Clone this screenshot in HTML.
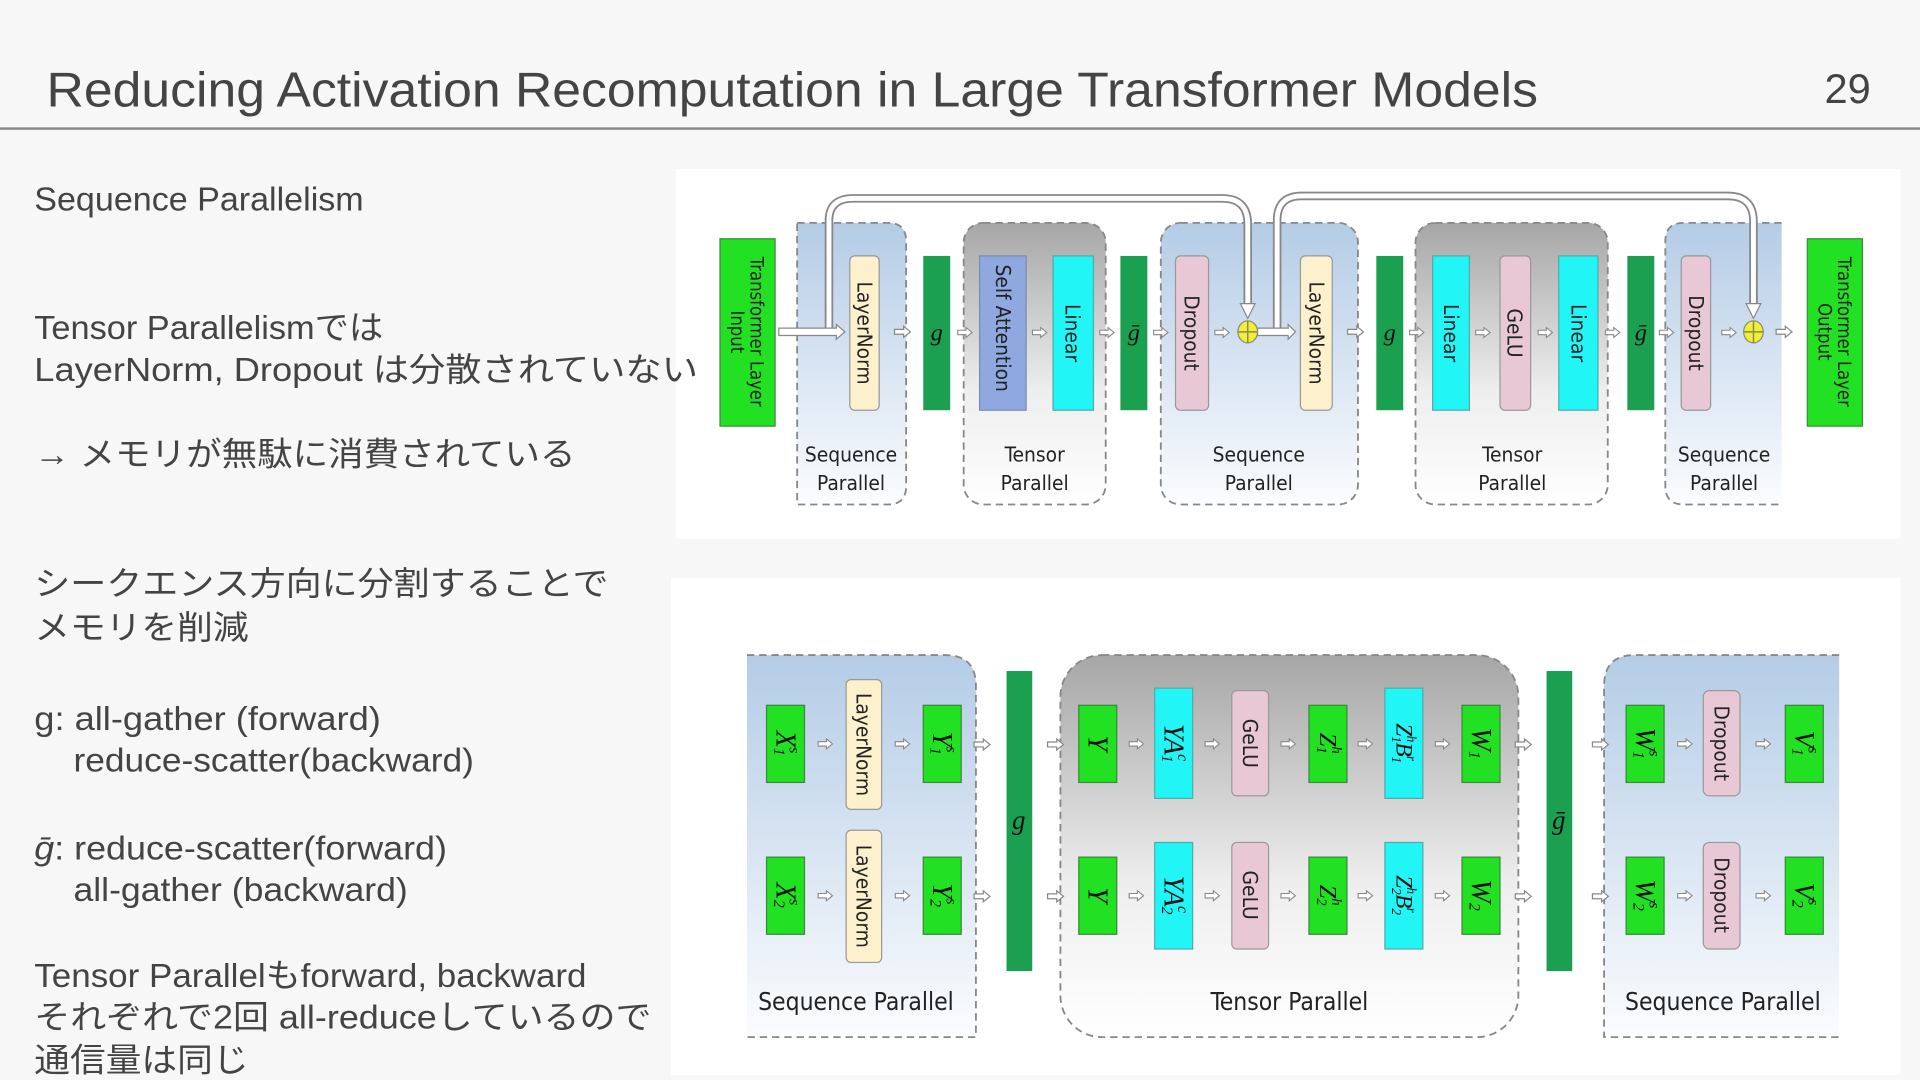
<!DOCTYPE html>
<html><head><meta charset="utf-8"><style>
html,body{margin:0;padding:0;background:#f7f7f7;width:1920px;height:1080px;overflow:hidden}
svg{display:block}
.t{font-family:"Liberation Sans","Noto Sans CJK JP",sans-serif;fill:#444}
.lb{font-family:"DejaVu Sans Condensed","DejaVu Sans","Liberation Sans",sans-serif;fill:#222}
.m{font-family:"Liberation Serif",serif;font-style:italic;fill:#111}
</style></head><body>
<svg width="1920" height="1080" viewBox="0 0 1568 882" xmlns="http://www.w3.org/2000/svg">
<defs>
<linearGradient id="bl" x1="0" y1="0" x2="0" y2="1"><stop offset="0" stop-color="#b4cce6"/><stop offset="1" stop-color="#fbfcfe"/></linearGradient>
<linearGradient id="gr" x1="0" y1="0" x2="0" y2="1"><stop offset="0" stop-color="#a6a6a6"/><stop offset="0.6" stop-color="#eeeeee"/><stop offset="1" stop-color="#ffffff"/></linearGradient>
<symbol id="ar" viewBox="0 0 14 10" overflow="visible"><path d="M0.5,3 H8 V0.5 L13.5,5 L8,9.5 V7 H0.5Z" fill="#fff" stroke="#888" stroke-width="1"/></symbol>
</defs>
<rect width="1568" height="882" fill="#f7f7f7"/>
<text class="t" x="38" y="87" font-size="40" textLength="1218" lengthAdjust="spacingAndGlyphs" style="fill:#444">Reducing Activation Recomputation in Large Transformer Models</text>
<text class="t" x="1490" y="84" font-size="34">29</text>
<rect x="0" y="104" width="1568" height="2" fill="#888"/>

<!-- TOP DIAGRAM -->
<rect x="552" y="138" width="1000" height="302" fill="#fff"/>
<g stroke="#888" stroke-width="1.5" stroke-dasharray="6,4">
<path d="M651,182 H725 Q740,182 740,197 V397 Q740,412 725,412 H651 Z" fill="url(#bl)"/>
<rect x="787" y="182" width="116" height="230" rx="16" fill="url(#gr)"/>
<rect x="948" y="182" width="161" height="230" rx="16" fill="url(#bl)"/>
<rect x="1156" y="182" width="157" height="230" rx="16" fill="url(#gr)"/>
<path d="M1455,182 H1375 Q1360,182 1360,197 V397 Q1360,412 1375,412 H1455" fill="url(#bl)"/>
</g>
<g fill="none" stroke-linecap="butt">
<path d="M677,271 V180 Q677,162 697,162 H998 Q1019,162 1019,183 V250" stroke="#888" stroke-width="7"/>
<path d="M677,271 V180 Q677,162 697,162 H998 Q1019,162 1019,183 V252" stroke="#fff" stroke-width="4"/>
<path d="M1043,271 V180 Q1043,160 1063,160 H1411 Q1432,160 1432,181 V250" stroke="#888" stroke-width="7"/>
<path d="M1043,271 V180 Q1043,160 1063,160 H1411 Q1432,160 1432,181 V252" stroke="#fff" stroke-width="4"/>
</g>
<path d="M1013,248 H1025 L1019,260 Z" fill="#fff" stroke="#888"/>
<path d="M1426,248 H1438 L1432,260 Z" fill="#fff" stroke="#888"/>
<path d="M636,268 H683 V265 L690,271 L683,277 V274 H636Z" fill="#fff" stroke="#888"/>
<use href="#ar" x="726" y="266" width="22" height="10"/>
<use href="#ar" x="781" y="267" width="14" height="9"/>
<use href="#ar" x="842" y="267" width="14" height="9"/>
<use href="#ar" x="897" y="267" width="14" height="9"/>
<use href="#ar" x="941" y="267" width="14" height="9"/>
<use href="#ar" x="991" y="267" width="14" height="9"/>
<path d="M1027,268 H1052 V265 L1058,271 L1052,277 V274 H1027Z" fill="#fff" stroke="#888"/>
<use href="#ar" x="1094" y="266" width="26" height="10"/>
<use href="#ar" x="1150" y="267" width="14" height="9"/>
<use href="#ar" x="1204" y="267" width="14" height="9"/>
<use href="#ar" x="1255" y="267" width="14" height="9"/>
<use href="#ar" x="1310" y="267" width="14" height="9"/>
<use href="#ar" x="1354" y="267" width="14" height="9"/>
<use href="#ar" x="1405" y="267" width="14" height="9"/>
<use href="#ar" x="1442" y="266" width="30" height="10"/>
<rect x="588" y="195" width="45" height="153" fill="#22e022" stroke="#3a8a3a"/>
<text class="lb" transform="translate(610,271) rotate(90)" text-anchor="middle" font-size="15"><tspan x="0" dy="-3">Transformer Layer</tspan><tspan x="0" dy="16">Input</tspan></text>
<rect x="1476" y="195" width="45" height="153" fill="#22e022" stroke="#3a8a3a"/>
<text class="lb" transform="translate(1498,271) rotate(90)" text-anchor="middle" font-size="15"><tspan x="0" dy="-3">Transformer Layer</tspan><tspan x="0" dy="16">Output</tspan></text>

<g class="lb" font-size="17">
<rect x="694" y="209" width="24" height="126" rx="4" fill="#fdf0cc" stroke="#999"/>
<text transform="translate(706,272) rotate(90)" text-anchor="middle" dominant-baseline="central">LayerNorm</text>
<rect x="800" y="209" width="38" height="126" fill="#8fa8e0" stroke="#7a8ab0"/>
<text transform="translate(819,268) rotate(90)" text-anchor="middle" dominant-baseline="central">Self Attention</text>
<rect x="860" y="209" width="33" height="126" fill="#22f5f5" stroke="#5aa"/>
<text transform="translate(876,272) rotate(90)" text-anchor="middle" dominant-baseline="central">Linear</text>
<rect x="960" y="209" width="27" height="126" rx="4" fill="#e8c8d4" stroke="#999"/>
<text transform="translate(973,272) rotate(90)" text-anchor="middle" dominant-baseline="central">Dropout</text>
<rect x="1062" y="209" width="26" height="126" rx="4" fill="#fdf0cc" stroke="#999"/>
<text transform="translate(1075,272) rotate(90)" text-anchor="middle" dominant-baseline="central">LayerNorm</text>
<rect x="1170" y="209" width="30" height="126" fill="#22f5f5" stroke="#5aa"/>
<text transform="translate(1185,272) rotate(90)" text-anchor="middle" dominant-baseline="central">Linear</text>
<rect x="1225" y="209" width="25" height="126" rx="4" fill="#e8c8d4" stroke="#999"/>
<text transform="translate(1237,272) rotate(90)" text-anchor="middle" dominant-baseline="central">GeLU</text>
<rect x="1273" y="209" width="32" height="126" fill="#22f5f5" stroke="#5aa"/>
<text transform="translate(1289,272) rotate(90)" text-anchor="middle" dominant-baseline="central">Linear</text>
<rect x="1373" y="209" width="24" height="126" rx="4" fill="#e8c8d4" stroke="#999"/>
<text transform="translate(1385,272) rotate(90)" text-anchor="middle" dominant-baseline="central">Dropout</text>
</g>
<rect x="754" y="209" width="22" height="126" fill="#1aa050"/>
<text class="m" x="765" y="278" text-anchor="middle" font-size="20">g</text>
<rect x="915" y="209" width="22" height="126" fill="#1aa050"/>
<text class="m" x="926" y="278" text-anchor="middle" font-size="20">ḡ</text>
<rect x="1124" y="209" width="22" height="126" fill="#1aa050"/>
<text class="m" x="1135" y="278" text-anchor="middle" font-size="20">g</text>
<rect x="1329" y="209" width="22" height="126" fill="#1aa050"/>
<text class="m" x="1340" y="278" text-anchor="middle" font-size="20">ḡ</text>
<ellipse cx="1019" cy="271" rx="8" ry="9" fill="#f0f030" stroke="#888"/>
<path d="M1011,271 H1027 M1019,262 V280" stroke="#886" stroke-width="1.2"/>
<ellipse cx="1432" cy="271" rx="8" ry="9" fill="#f0f030" stroke="#888"/>
<path d="M1424,271 H1440 M1432,262 V280" stroke="#886" stroke-width="1.2"/>

<g class="lb" font-size="17" text-anchor="middle">
<text x="695" y="377">Sequence</text><text x="695" y="400">Parallel</text>
<text x="845" y="377">Tensor</text><text x="845" y="400">Parallel</text>
<text x="1028" y="377">Sequence</text><text x="1028" y="400">Parallel</text>
<text x="1235" y="377">Tensor</text><text x="1235" y="400">Parallel</text>
<text x="1408" y="377">Sequence</text><text x="1408" y="400">Parallel</text>
</g>

<!-- BOTTOM DIAGRAM -->
<rect x="548" y="472" width="1004" height="406" fill="#fff"/>
<g stroke="#888" stroke-width="1.5" stroke-dasharray="6,4">
<path d="M610,535 H772 Q797,535 797,560 V847 H610" fill="url(#bl)"/>
<rect x="866" y="535" width="374" height="312" rx="34" fill="url(#gr)"/>
<path d="M1502,535 H1335 Q1310,535 1310,560 V847 H1502" fill="url(#bl)"/>
</g>
<rect x="822" y="548" width="21" height="245" fill="#1aa050"/>
<text class="m" x="832" y="677" text-anchor="middle" font-size="22">g</text>
<rect x="1263" y="548" width="21" height="245" fill="#1aa050"/>
<text class="m" x="1273" y="677" text-anchor="middle" font-size="22">ḡ</text>

<g>
<rect x="626" y="576" width="31" height="63" fill="#22e022" stroke="#3a8a3a"/>
<text class="m" transform="translate(641,607) rotate(90)" text-anchor="middle" dominant-baseline="central" font-size="23">X<tspan font-size="13" dy="5">1</tspan><tspan font-size="13" dx="-7" dy="-13">s</tspan></text>
<rect x="691" y="555" width="29" height="106" rx="4" fill="#fdf0cc" stroke="#999"/>
<text class="lb" transform="translate(705,608) rotate(90)" text-anchor="middle" dominant-baseline="central" font-size="17">LayerNorm</text>
<rect x="754" y="576" width="31" height="63" fill="#22e022" stroke="#3a8a3a"/>
<text class="m" transform="translate(769,607) rotate(90)" text-anchor="middle" dominant-baseline="central" font-size="23">Y<tspan font-size="13" dy="5">1</tspan><tspan font-size="13" dx="-7" dy="-13">s</tspan></text>
<rect x="881" y="576" width="31" height="63" fill="#22e022" stroke="#3a8a3a"/>
<text class="m" transform="translate(896,607) rotate(90)" text-anchor="middle" dominant-baseline="central" font-size="23">Y</text>
<rect x="943" y="562" width="31" height="90" fill="#22f5f5" stroke="#5aa"/>
<text class="m" transform="translate(958,607) rotate(90)" text-anchor="middle" dominant-baseline="central" font-size="23">YA<tspan font-size="13" dy="5">1</tspan><tspan font-size="13" dx="-7" dy="-13">c</tspan></text>
<rect x="1006" y="564" width="30" height="86" rx="4" fill="#e8c8d4" stroke="#999"/>
<text class="lb" transform="translate(1021,607) rotate(90)" text-anchor="middle" dominant-baseline="central" font-size="17">GeLU</text>
<rect x="1069" y="576" width="31" height="63" fill="#22e022" stroke="#3a8a3a"/>
<text class="m" transform="translate(1084,607) rotate(90)" text-anchor="middle" dominant-baseline="central" font-size="20">Z<tspan font-size="12" dy="5">1</tspan><tspan font-size="12" dx="-6" dy="-12">h</tspan></text>
<rect x="1131" y="562" width="31" height="90" fill="#22f5f5" stroke="#5aa"/>
<text class="m" transform="translate(1146,607) rotate(90)" text-anchor="middle" dominant-baseline="central" font-size="19">Z<tspan font-size="11" dy="5">1</tspan><tspan font-size="11" dx="-6" dy="-12">h</tspan><tspan dy="7">B</tspan><tspan font-size="11" dy="5">1</tspan><tspan font-size="11" dx="-6" dy="-12">r</tspan></text>
<rect x="1194" y="576" width="31" height="63" fill="#22e022" stroke="#3a8a3a"/>
<text class="m" transform="translate(1209,607) rotate(90)" text-anchor="middle" dominant-baseline="central" font-size="23">W<tspan font-size="13" dy="5">1</tspan></text>
<rect x="1328" y="576" width="31" height="63" fill="#22e022" stroke="#3a8a3a"/>
<text class="m" transform="translate(1343,607) rotate(90)" text-anchor="middle" dominant-baseline="central" font-size="23">W<tspan font-size="13" dy="5">1</tspan><tspan font-size="13" dx="-7" dy="-13">s</tspan></text>
<rect x="1391" y="564" width="30" height="86" rx="5" fill="#e8c8d4" stroke="#999"/>
<text class="lb" transform="translate(1406,607) rotate(90)" text-anchor="middle" dominant-baseline="central" font-size="17">Dropout</text>
<rect x="1458" y="576" width="31" height="63" fill="#22e022" stroke="#3a8a3a"/>
<text class="m" transform="translate(1473,607) rotate(90)" text-anchor="middle" dominant-baseline="central" font-size="23">V<tspan font-size="13" dy="5">1</tspan><tspan font-size="13" dx="-7" dy="-13">s</tspan></text>
<use href="#ar" x="665" y="603" width="18" height="9"/>
<use href="#ar" x="727" y="603" width="20" height="9"/>
<use href="#ar" x="789" y="603" width="26" height="10"/>
<use href="#ar" x="849" y="603" width="26" height="10"/>
<use href="#ar" x="919" y="603" width="18" height="9"/>
<use href="#ar" x="981" y="603" width="18" height="9"/>
<use href="#ar" x="1043" y="603" width="18" height="9"/>
<use href="#ar" x="1106" y="603" width="18" height="9"/>
<use href="#ar" x="1169" y="603" width="18" height="9"/>
<use href="#ar" x="1231" y="603" width="26" height="10"/>
<use href="#ar" x="1293" y="603" width="28" height="10"/>
<use href="#ar" x="1367" y="603" width="18" height="9"/>
<use href="#ar" x="1429" y="603" width="22" height="9"/>
</g>
<g>
<rect x="626" y="700" width="31" height="63" fill="#22e022" stroke="#3a8a3a"/>
<text class="m" transform="translate(641,731) rotate(90)" text-anchor="middle" dominant-baseline="central" font-size="23">X<tspan font-size="13" dy="5">2</tspan><tspan font-size="13" dx="-7" dy="-13">s</tspan></text>
<rect x="691" y="678" width="29" height="108" rx="4" fill="#fdf0cc" stroke="#999"/>
<text class="lb" transform="translate(705,732) rotate(90)" text-anchor="middle" dominant-baseline="central" font-size="17">LayerNorm</text>
<rect x="754" y="700" width="31" height="63" fill="#22e022" stroke="#3a8a3a"/>
<text class="m" transform="translate(769,731) rotate(90)" text-anchor="middle" dominant-baseline="central" font-size="23">Y<tspan font-size="13" dy="5">2</tspan><tspan font-size="13" dx="-7" dy="-13">s</tspan></text>
<rect x="881" y="700" width="31" height="63" fill="#22e022" stroke="#3a8a3a"/>
<text class="m" transform="translate(896,731) rotate(90)" text-anchor="middle" dominant-baseline="central" font-size="23">Y</text>
<rect x="943" y="688" width="31" height="87" fill="#22f5f5" stroke="#5aa"/>
<text class="m" transform="translate(958,731) rotate(90)" text-anchor="middle" dominant-baseline="central" font-size="23">YA<tspan font-size="13" dy="5">2</tspan><tspan font-size="13" dx="-7" dy="-13">c</tspan></text>
<rect x="1006" y="688" width="30" height="87" rx="4" fill="#e8c8d4" stroke="#999"/>
<text class="lb" transform="translate(1021,731) rotate(90)" text-anchor="middle" dominant-baseline="central" font-size="17">GeLU</text>
<rect x="1069" y="700" width="31" height="63" fill="#22e022" stroke="#3a8a3a"/>
<text class="m" transform="translate(1084,731) rotate(90)" text-anchor="middle" dominant-baseline="central" font-size="20">Z<tspan font-size="12" dy="5">2</tspan><tspan font-size="12" dx="-6" dy="-12">h</tspan></text>
<rect x="1131" y="688" width="31" height="87" fill="#22f5f5" stroke="#5aa"/>
<text class="m" transform="translate(1146,731) rotate(90)" text-anchor="middle" dominant-baseline="central" font-size="19">Z<tspan font-size="11" dy="5">2</tspan><tspan font-size="11" dx="-6" dy="-12">h</tspan><tspan dy="7">B</tspan><tspan font-size="11" dy="5">2</tspan><tspan font-size="11" dx="-6" dy="-12">r</tspan></text>
<rect x="1194" y="700" width="31" height="63" fill="#22e022" stroke="#3a8a3a"/>
<text class="m" transform="translate(1209,731) rotate(90)" text-anchor="middle" dominant-baseline="central" font-size="23">W<tspan font-size="13" dy="5">2</tspan></text>
<rect x="1328" y="700" width="31" height="63" fill="#22e022" stroke="#3a8a3a"/>
<text class="m" transform="translate(1343,731) rotate(90)" text-anchor="middle" dominant-baseline="central" font-size="23">W<tspan font-size="13" dy="5">2</tspan><tspan font-size="13" dx="-7" dy="-13">s</tspan></text>
<rect x="1391" y="688" width="30" height="87" rx="5" fill="#e8c8d4" stroke="#999"/>
<text class="lb" transform="translate(1406,731) rotate(90)" text-anchor="middle" dominant-baseline="central" font-size="17">Dropout</text>
<rect x="1458" y="700" width="31" height="63" fill="#22e022" stroke="#3a8a3a"/>
<text class="m" transform="translate(1473,731) rotate(90)" text-anchor="middle" dominant-baseline="central" font-size="23">V<tspan font-size="13" dy="5">2</tspan><tspan font-size="13" dx="-7" dy="-13">s</tspan></text>
<use href="#ar" x="665" y="727" width="18" height="9"/>
<use href="#ar" x="727" y="727" width="20" height="9"/>
<use href="#ar" x="789" y="727" width="26" height="10"/>
<use href="#ar" x="849" y="727" width="26" height="10"/>
<use href="#ar" x="919" y="727" width="18" height="9"/>
<use href="#ar" x="981" y="727" width="18" height="9"/>
<use href="#ar" x="1043" y="727" width="18" height="9"/>
<use href="#ar" x="1106" y="727" width="18" height="9"/>
<use href="#ar" x="1169" y="727" width="18" height="9"/>
<use href="#ar" x="1231" y="727" width="26" height="10"/>
<use href="#ar" x="1293" y="727" width="28" height="10"/>
<use href="#ar" x="1367" y="727" width="18" height="9"/>
<use href="#ar" x="1429" y="727" width="22" height="9"/>
</g>
<g class="lb" font-size="20" text-anchor="middle">
<text x="699" y="825">Sequence Parallel</text>
<text x="1053" y="825">Tensor Parallel</text>
<text x="1407" y="825">Sequence Parallel</text>
</g>

<g class="t" font-size="27">
<text x="28" y="172" textLength="269" lengthAdjust="spacingAndGlyphs">Sequence Parallelism</text>
<text x="28" y="277" textLength="285" lengthAdjust="spacingAndGlyphs">Tensor Parallelismでは</text>
<text x="28" y="311" textLength="542" lengthAdjust="spacingAndGlyphs">LayerNorm, Dropout は分散されていない</text>
<text x="28" y="380" textLength="442" lengthAdjust="spacingAndGlyphs">→ メモリが無駄に消費されている</text>
<text x="28" y="486" textLength="469" lengthAdjust="spacingAndGlyphs">シークエンス方向に分割することで</text>
<text x="28" y="522" textLength="175" lengthAdjust="spacingAndGlyphs">メモリを削減</text>
<text x="28" y="596" textLength="283" lengthAdjust="spacingAndGlyphs">g: all-gather (forward)</text>
<text x="60" y="630" textLength="327" lengthAdjust="spacingAndGlyphs">reduce-scatter(backward)</text>
<text x="28" y="702" textLength="337" lengthAdjust="spacingAndGlyphs"><tspan font-style="italic">ḡ</tspan>: reduce-scatter(forward)</text>
<text x="60" y="736" textLength="273" lengthAdjust="spacingAndGlyphs">all-gather (backward)</text>
<text x="28" y="806" textLength="451" lengthAdjust="spacingAndGlyphs">Tensor Parallelもforward, backward</text>
<text x="28" y="840" textLength="504" lengthAdjust="spacingAndGlyphs">それぞれで2回 all-reduceしているので</text>
<text x="28" y="875" textLength="175" lengthAdjust="spacingAndGlyphs">通信量は同じ</text>
</g>
</svg>
</body></html>
